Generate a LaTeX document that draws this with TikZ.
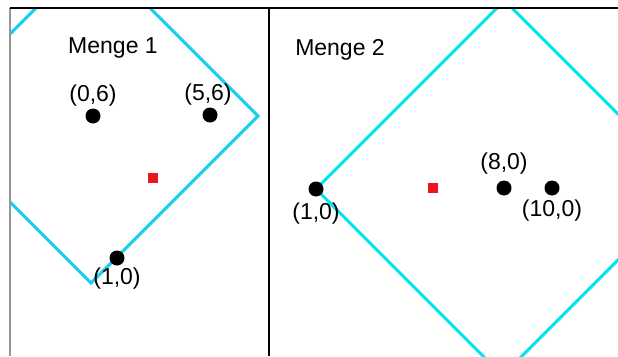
\documentclass[tikz,border=0pt]{standalone}
\usepackage{fontspec}
\setmainfont{Liberation Sans}
\usetikzlibrary{positioning}
\definecolor{LeftCyan}{RGB}{25,205,240}
\definecolor{RightCyan}{RGB}{0,228,238}
\definecolor{MeanRed}{RGB}{238,20,30}
\definecolor{FrameGray}{RGB}{150,150,150}

\begin{document}
\begin{tikzpicture}[x=1pt, y=-1pt, node distance=2pt, font=\fontsize{23}{27}\selectfont,
    dot/.style={circle, fill=black, inner sep=0pt, minimum size=15pt},
    mean/.style={fill=MeanRed, inner sep=0pt, minimum size=10pt},
    lab/.style={inner sep=0pt}]
  \useasboundingbox (0,0) rectangle (618,356);
  % diamonds, cut at the panel edges
  \begin{scope}
    \clip (10,8) rectangle (269,356);
    \draw[LeftCyan, line width=3pt] (93,-49) -- (258,116) -- (91,283) -- (-74,118) -- cycle;
  \end{scope}
  \begin{scope}
    \clip (269,8) rectangle (618,356);
    \draw[RightCyan, line width=3pt] (316,189) -- (504.5,0.5) -- (691,187) -- (502.5,375.5) -- cycle;
  \end{scope}
  \draw[FrameGray, line width=1.2pt] (10,8) -- (10,356);
  \draw[line width=1.5pt] (10,8) -- (618,8);
  \draw[line width=1.8pt] (269,8) -- (269,356);
  % Menge 1
  \node (menge1) at (113,48) {Menge 1};
  \node[dot] (a06) at (93,116) {};
  \node[lab, above=of a06] (a06l) {(0,6)};
  \node[dot] (a56) at (210,115) {};
  \node[lab, above=of a56, xshift=-2pt] (a56l) {(5,6)};
  \node[dot] (a10) at (117,258) {};
  \node[lab, below=of a10] (a10l) {(1,0)};
  \node[mean] (ma) at (152.5,177.5) {};
  % Menge 2
  \node (menge2) at (340,50) {Menge 2};
  \node[dot] (b10) at (316,189) {};
  \node[lab, below=6pt of b10] (b10l) {(1,0)};
  \node[dot] (b80) at (504,188) {};
  \node[lab, above=6pt of b80] (b80l) {(8,0)};
  \node[dot] (b100) at (552,188) {};
  \node[lab, below=4pt of b100] (b100l) {(10,0)};
  \node[mean] (mb) at (433,188) {};
\end{tikzpicture}
\end{document}
